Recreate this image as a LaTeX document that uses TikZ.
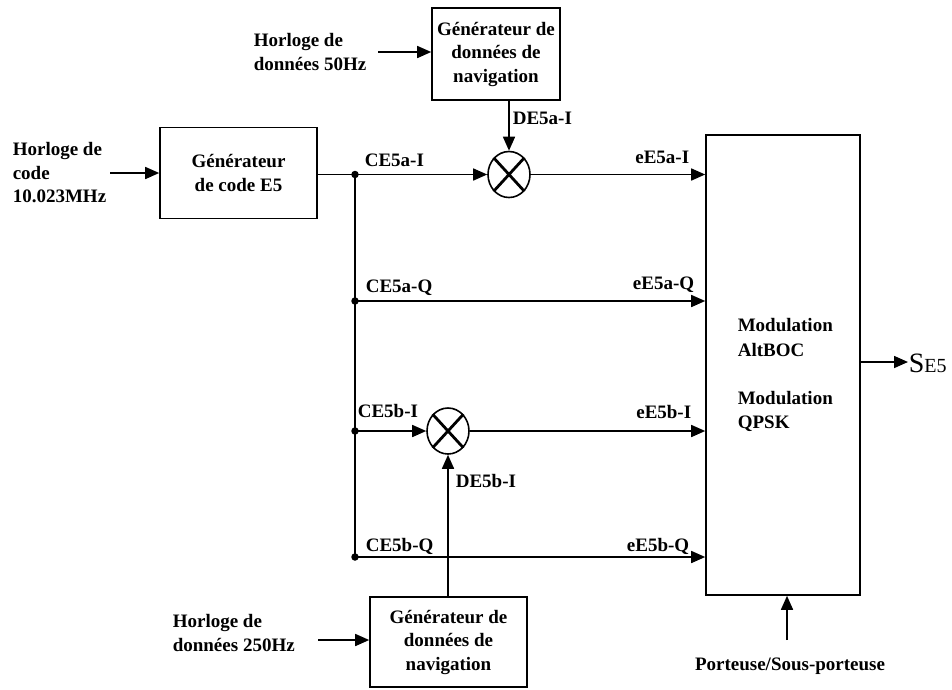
\documentclass[tikz,border=0pt]{standalone}
\usepackage{fontspec}
\setmainfont{Liberation Serif}
\usetikzlibrary{arrows.meta,shapes.geometric}
\begin{document}
\begin{tikzpicture}[x=1pt,y=-1pt, line width=1.6pt,
 font=\fontsize{19}{23.5}\selectfont\bfseries,
 arr/.style={-{Triangle[length=14pt,width=12pt]}},
 box/.style={draw, line width=1.6pt, inner sep=0pt, align=center},
 mix/.style={draw, ellipse, minimum width=42pt, minimum height=46pt, inner sep=0pt},
 lbl/.style={inner sep=0pt},
 dot/.style={circle, fill, inner sep=0pt, minimum size=7.5pt}]
\useasboundingbox (0,0) rectangle (952,689);

% boxes
\node[box, minimum width=128pt, minimum height=92pt] (navA) at (496,54) {Générateur de\\données de\\navigation};
\node[box, minimum width=157pt, minimum height=91pt] (code) at (238.5,173) {Générateur\\de code E5};
\node[box, minimum width=154pt, minimum height=460pt] (mod) at (783,365) {};
\node[box, minimum width=157pt, minimum height=90pt] (navB) at (448.5,642) {Générateur de\\données de\\navigation};
\node[mix] (m1) at (509,174.5) {};
\node[mix] (m2) at (448,431) {};
\draw[line width=2.8pt] (m1.north west) -- (m1.south east) (m1.north east) -- (m1.south west);
\draw[line width=2.8pt] (m2.north west) -- (m2.south east) (m2.north east) -- (m2.south west);

% outer texts
\node[lbl, anchor=west, align=left] (hcode) at (12,173) {Horloge de\\code\\10.023MHz};
\node[lbl, anchor=west, align=left] (h50) at (253,52) {Horloge de\\données 50Hz};
\node[lbl, anchor=west, align=left] (h250) at (172,633) {Horloge de\\données 250Hz};
\node[lbl] (port) at (790,666) {Porteuse/Sous-porteuse};

% modulation texts
\node[lbl, anchor=base west] (mt1) at (737,331) {Modulation};
\node[lbl, anchor=base west] (mt2) at (737,356) {AltBOC};
\node[lbl, anchor=base west] (mt3) at (737,404) {Modulation};
\node[lbl, anchor=base west] (mt4) at (737,428) {QPSK};

% output
\node[lbl, anchor=base west, font=\mdseries] (sout) at (908,372) {{\fontsize{28}{28}\selectfont S}{\fontsize{20}{20}\selectfont E5}};
\path (mod.east) ++(0,-3) coordinate (os);
\draw[arr] (os) -- (os -| sout.west);

% inputs
\coordinate (inC) at (110,173);
\draw[arr] (inC) -- (code.west);
\coordinate (in50) at (378,52);
\draw[arr] (in50) -- (in50 -| navA.west);
\coordinate (in250) at (318,640);
\draw[arr] (in250) -- (in250 -| navB.west);
\coordinate (pc) at (787,640);
\draw[arr] (pc) -- (pc |- mod.south);

% bus
\node[dot] (d1) at (355,174.5) {};
\node[dot] (d2) at (355,301) {};
\node[dot] (d3) at (355,431) {};
\node[dot] (d4) at (355,557) {};
\draw (d1.center -| code.east) -- (d1.center);
\draw (d1.center) -- (d4.center);
\draw[arr] (d1.center) -- (m1.west);
\draw[arr] (m1.east) -- (m1.east -| mod.west);
\draw[arr] (d2.center) -- (d2 -| mod.west);
\draw[arr] (d3.center) -- (m2.west);
\draw[arr] (m2.east) -- (m2.east -| mod.west);
\draw[arr] (d4.center) -- (d4 -| mod.west);
\draw[arr] (m1 |- navA.south) -- (m1.north);
\draw[arr] (m2 |- navB.north) -- (m2.south);

% signal labels
\node[lbl, anchor=base west] (lCaI) at (364,166) {CE5a-I};
\node[lbl, anchor=base west] (lCaQ) at (365,292) {CE5a-Q};
\node[lbl, anchor=base west] (lCbI) at (357,417) {CE5b-I};
\node[lbl, anchor=base west] (lCbQ) at (365,551) {CE5b-Q};
\node[lbl, anchor=base east] (leaI) at (690,163) {eE5a-I};
\node[lbl, anchor=base east] (leaQ) at (695,289) {eE5a-Q};
\node[lbl, anchor=base east] (lebI) at (692,418) {eE5b-I};
\node[lbl, anchor=base east] (lebQ) at (690,551) {eE5b-Q};
\node[lbl, anchor=base west] (lDa) at (512,124) {DE5a-I};
\node[lbl, anchor=base west] (lDb) at (455,487) {DE5b-I};
\end{tikzpicture}
\end{document}
